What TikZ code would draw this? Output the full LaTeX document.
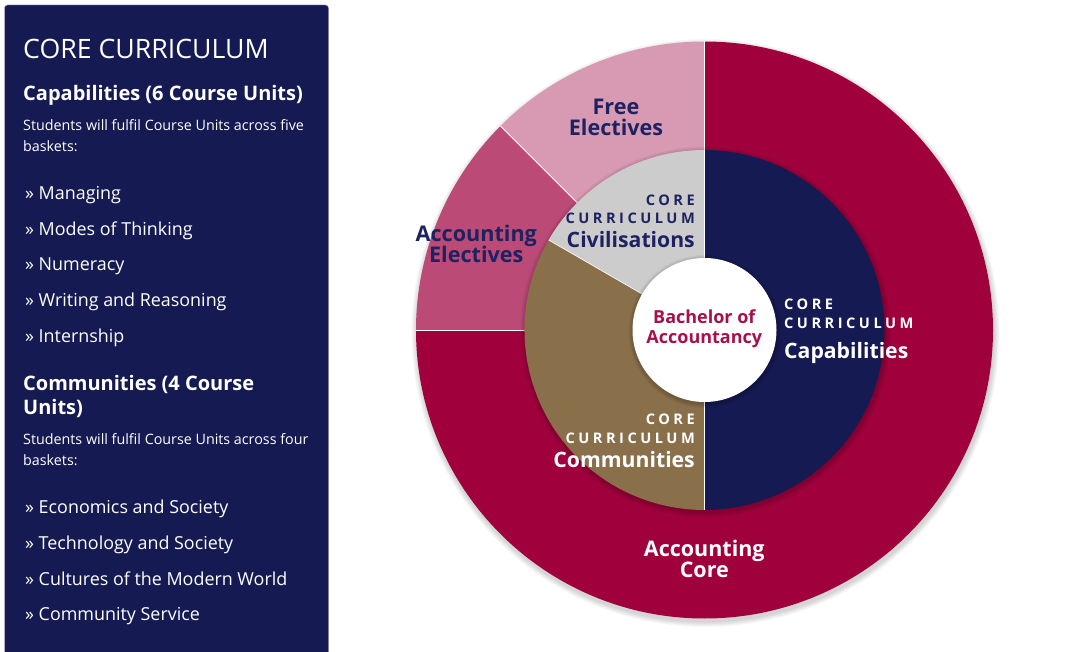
\documentclass[tikz,border=0pt]{standalone}
\usepackage{fontspec}
\setmainfont{Open Sans}
\newfontfamily\spacedfont[LetterSpace=24]{Open Sans}
\definecolor{navy}{HTML}{161A53}
\definecolor{labelnavy}{HTML}{1D2260}
\definecolor{crimson}{HTML}{A0003C}
\definecolor{accel}{HTML}{BB4A77}
\definecolor{freeel}{HTML}{D899B3}
\definecolor{civgrey}{HTML}{CCCCCC}
\definecolor{brown}{HTML}{8A6F4B}
\definecolor{bachred}{HTML}{A6114B}
\tikzset{
  paneltext/.style={anchor=base west, inner sep=0pt, text=white},
  lbl/.style={inner sep=0pt, anchor=base},
  lblr/.style={inner sep=0pt, anchor=base east},
  lbll/.style={inner sep=0pt, anchor=base west},
  sep/.style={white, line width=0.9pt},
}
\newcommand{\fs}[1]{\fontsize{#1}{#1}\selectfont}
\begin{document}
\begin{tikzpicture}[x=1pt,y=1pt]
\useasboundingbox (0,0) rectangle (1080,-652);
\fill[white] (0,0) rectangle (1080,-652);
% ---------- left panel ----------
\fill[navy, rounded corners=3pt] (4.5,-5) rectangle (328.5,-680);
\draw[gray!60, line width=0.4pt, rounded corners=3pt] (4.5,-680) -- (4.5,-5) -- (328.5,-5) -- (328.5,-680);
\node[paneltext, font=\fs{26.7}] (title) at (23,-58.3) {CORE CURRICULUM};
\node[paneltext, font=\bfseries\fs{20}] (caphead) at (23,-100.7) {Capabilities (6 Course Units)};
\node[paneltext, font=\fs{14.3}] (capbody1) at (23,-130.7) {Students will fulfil Course Units across five};
\node[paneltext, font=\fs{14.3}] (capbody2) at (23,-151.7) {baskets:};
\node[paneltext, font=\fs{17.9}] (i1) at (25,-200) {» Managing};
\node[paneltext, font=\fs{17.9}] (i2) at (25,-235.5) {» Modes of Thinking};
\node[paneltext, font=\fs{17.9}] (i3) at (25,-271) {» Numeracy};
\node[paneltext, font=\fs{17.9}] (i4) at (25,-306.7) {» Writing and Reasoning};
\node[paneltext, font=\fs{17.9}] (i5) at (25,-342.7) {» Internship};
\node[paneltext, font=\bfseries\fs{20}] (comhead1) at (23,-391) {Communities (4 Course};
\node[paneltext, font=\bfseries\fs{20}] (comhead2) at (23,-415) {Units)};
\node[paneltext, font=\fs{14.3}] (combody1) at (23,-444.3) {Students will fulfil Course Units across four};
\node[paneltext, font=\fs{14.3}] (combody2) at (23,-465.3) {baskets:};
\node[paneltext, font=\fs{17.9}] (j1) at (25,-513.3) {» Economics and Society};
\node[paneltext, font=\fs{17.9}] (j2) at (25,-549.3) {» Technology and Society};
\node[paneltext, font=\fs{17.9}] (j3) at (25,-585) {» Cultures of the Modern World};
\node[paneltext, font=\fs{17.9}] (j4) at (25,-620.7) {» Community Service};
% ---------- donut ----------
\begin{scope}[shift={(704.5,-330)}]
  % outer shadow
  \foreach \i in {1,...,7} {\fill[black, opacity=0.025] (1,-3) circle (288.5+\i*0.8);}
  % outer ring
  \fill[crimson] (0,0) -- (-180:288.5) arc[start angle=-180, end angle=90, radius=288.5] -- cycle;
  \fill[freeel] (0,0) -- (90:288.5) arc[start angle=90, end angle=135, radius=288.5] -- cycle;
  \fill[accel] (0,0) -- (135:288.5) arc[start angle=135, end angle=180, radius=288.5] -- cycle;
  \draw[sep] (90:180) -- (90:288.5);
  \draw[sep] (135:180) -- (135:288.5);
  \draw[sep] (180:180) -- (180:288.5);
  % inner shadow
  \foreach \i in {1,...,6} {\fill[black, opacity=0.03] (1,-2) circle (180+\i*0.9);}
  % inner ring
  \fill[navy] (0,0) -- (-90:180) arc[start angle=-90, end angle=90, radius=180] -- cycle;
  \fill[civgrey] (0,0) -- (90:180) arc[start angle=90, end angle=150, radius=180] -- cycle;
  \fill[brown] (0,0) -- (150:180) arc[start angle=150, end angle=270, radius=180] -- cycle;
  \draw[sep, line width=0.7pt] (90:72) -- (90:180);
  \draw[sep, line width=0.7pt] (150:72) -- (150:180);
  \draw[sep, line width=0.7pt] (270:72) -- (270:180);
  % center shadow + circle
  \foreach \i in {1,...,5} {\fill[black, opacity=0.04] (0.5,-1.5) circle (72+\i*0.9);}
  \fill[white] (0,0) circle (72);
\end{scope}
% ---------- donut labels ----------
\node[lbl, font=\bfseries\fs{21.6}, text=labelnavy] (fe1) at (616,-115) {Free};
\node[lbl, font=\bfseries\fs{21.6}, text=labelnavy] (fe2) at (616,-136) {Electives};
\node[lbl, font=\bfseries\fs{21.6}, text=labelnavy] (ae1) at (476.3,-242) {Accounting};
\node[lbl, font=\bfseries\fs{21.6}, text=labelnavy] (ae2) at (476.3,-262.3) {Electives};
\node[lblr, font=\spacedfont\bfseries\fs{14.6}, text=labelnavy] (cv1) at (695,-205.7) {CORE};
\node[lblr, font=\spacedfont\bfseries\fs{14.6}, text=labelnavy] (cv2) at (695,-223.3) {CURRICULUM};
\node[lblr, font=\bfseries\fs{21.2}, text=labelnavy] (cv3) at (695,-247.3) {Civilisations};
\node[lblr, font=\spacedfont\bfseries\fs{14.6}, text=white] (cm1) at (695,-425) {CORE};
\node[lblr, font=\spacedfont\bfseries\fs{14.6}, text=white] (cm2) at (695,-443.3) {CURRICULUM};
\node[lblr, font=\bfseries\fs{21.2}, text=white] (cm3) at (695,-467.3) {Communities};
\node[lbll, font=\spacedfont\bfseries\fs{14.6}, text=white] (cp1) at (784,-310) {CORE};
\node[lbll, font=\spacedfont\bfseries\fs{14.6}, text=white] (cp2) at (784,-328.3) {CURRICULUM};
\node[lbll, font=\bfseries\fs{21.2}, text=white] (cp3) at (784,-358.3) {Capabilities};
\node[lbl, font=\bfseries\fs{18}, text=bachred] (b1) at (704.3,-323.3) {Bachelor of};
\node[lbl, font=\bfseries\fs{18}, text=bachred] (b2) at (704.3,-344) {Accountancy};
\node[lbl, font=\bfseries\fs{21.5}, text=white] (ac1) at (704.3,-556) {Accounting};
\node[lbl, font=\bfseries\fs{21.5}, text=white] (ac2) at (704.3,-577.3) {Core};
\end{tikzpicture}
\end{document}
